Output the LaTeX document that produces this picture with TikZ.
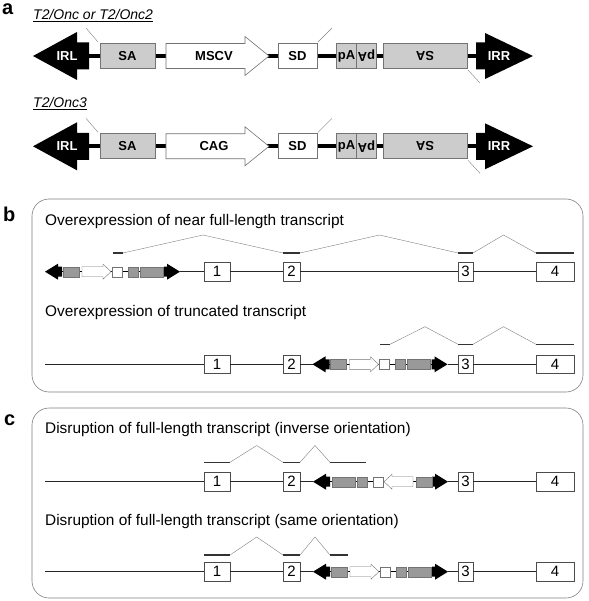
\documentclass[tikz,border=0pt]{standalone}
\usepackage{fontspec}
\setmainfont{Liberation Sans}

\definecolor{lightbox}{gray}{0.80}
\definecolor{minibox}{gray}{0.60}
\definecolor{rim}{gray}{0.45}

\tikzset{
  abox/.style={fill=lightbox, draw=rim, line width=0.6pt},
  awhite/.style={fill=white, draw=rim, line width=0.6pt},
  mbox/.style={fill=minibox, draw=rim, line width=0.4pt},
  mwhite/.style={fill=white, draw=rim, line width=0.4pt},
  lbl/.style={inner sep=0, font=\fontsize{13}{13}\selectfont\bfseries},
  partlbl/.style={inner sep=0, anchor=base west, font=\fontsize{20}{20}\selectfont\bfseries},
  title/.style={inner sep=0, anchor=west, font=\fontsize{15.4}{16}\selectfont},
  exon/.style={draw=black!70, fill=white, line width=0.6pt, minimum height=18.5pt, inner sep=0, font=\fontsize{15}{15}\selectfont},
  gene/.style={black!85, line width=1pt},
  bar/.style={black!80, line width=1.6pt},
  splice/.style={gray, line width=0.4pt},
  panel/.style={draw=gray, line width=0.6pt, rounded corners=17pt},
  marker/.style={gray, line width=0.4pt}
}

% full construct: #1 = y of the axis, #2 = promoter, #3 = name prefix
\newcommand{\onc}[3]{%
\begin{scope}[shift={(0,#1)}]
\draw[line width=4pt] (85,0) -- (480,0);
\fill (33,0) -- (77,-24) -- (77,-13.5) -- (89,-13.5) -- (89,13.5) -- (77,13.5) -- (77,24) -- cycle;
\fill (533,0) -- (485,-23) -- (485,-13.5) -- (476,-13.5) -- (476,13.5) -- (485,13.5) -- (485,23) -- cycle;
\filldraw[abox] (100,-12.5) rectangle (155,12.5);
\filldraw[awhite] (166,-12.5) -- (245,-12.5) -- (245,-19.5) -- (269,0) -- (245,19.5) -- (245,12.5) -- (166,12.5) -- cycle;
\filldraw[awhite] (278,-12.5) rectangle (317,12.5);
\filldraw[abox] (336,-12.5) rectangle (376,12.5);
\draw[rim, line width=0.6pt] (356.5,-12.5) -- (356.5,12.5);
\filldraw[abox] (383,-12.5) rectangle (467,12.5);
\draw[marker] (86,-28) -- (98,-14);
\draw[marker] (318,-14) -- (332,-28);
\draw[marker] (468,14) -- (480,27);
\node[lbl, text=white] (#3irl) at (67,0) {IRL};
\node[lbl] (#3sa) at (127.5,0) {SA};
\node[lbl] (#3pro) at (214,0) {#2};
\node[lbl] (#3sd) at (297.5,0) {SD};
\node[lbl] (#3pa) at (346.5,0) {pA};
\node[lbl, rotate=180] (#3ap) at (366.5,0) {pA};
\node[lbl, rotate=180] (#3as) at (425,0) {SA};
\node[lbl, text=white] (#3irr) at (499,0) {IRR};
\end{scope}}

% small transposon: #1 = left x, #2 = y, #3 = 1 (same) or -1 (inverse)
\newcommand{\minitn}[3]{%
\begin{scope}[shift={(#1+68.5,#2)}]
\draw[black, line width=0.6pt] (-55,0) -- (55,0);
\fill (-68.5,0) -- (-55.5,-8) -- (-55.5,-5) -- (-51.5,-5) -- (-51.5,5) -- (-55.5,5) -- (-55.5,8) -- cycle;
\fill (66.5,0) -- (53.5,-8) -- (53.5,-5) -- (50.5,-5) -- (50.5,5) -- (53.5,5) -- (53.5,8) -- cycle;
\begin{scope}[xscale=#3]
\filldraw[mbox] (-50.5,-5) rectangle (-34.5,5);
\filldraw[mwhite] (-31.5,-5) -- (-10.5,-5) -- (-10.5,-7.5) -- (-2.5,0) -- (-10.5,7.5) -- (-10.5,5) -- (-31.5,5) -- cycle;
\filldraw[mwhite] (-1.5,-5) rectangle (8.5,5);
\filldraw[mbox] (14.5,-5) rectangle (24.5,5);
\filldraw[mbox] (26.5,-5) rectangle (49.5,5);
\end{scope}
\end{scope}}

\begin{document}
\begin{tikzpicture}[x=1pt, y=-1pt]
\useasboundingbox (0,0) rectangle (588,601);

% PART A
\node[partlbl] (pa) at (2,15) {a};
\node[inner sep=0, anchor=base west, font=\fontsize{14}{14}\selectfont\itshape] (t1) at (33,19.5) {\underline{T2/Onc or T2/Onc2}};
\node[inner sep=0, anchor=base west, font=\fontsize{14}{14}\selectfont\itshape] (t3) at (33,107.5) {\underline{T2/Onc3}};
\onc{56}{MSCV}{u}
\onc{146.3}{CAG}{v}

% PART B
\node[partlbl] (pb) at (3,222) {b};
\draw[panel] (32,199) rectangle (583,392);
\node[title] (bt1) at (45,222) {Overexpression of near full-length transcript};
\node[title] (bt2) at (45,313) {Overexpression of truncated transcript};

% PART C
\node[partlbl] (pc) at (4,425) {c};
\draw[panel] (32,408) rectangle (583,598);
\node[title] (ct1) at (45,430) {Disruption of full-length transcript (inverse orientation)};
\node[title] (ct2) at (45,521.7) {Disruption of full-length transcript (same orientation)};

% EXONS
\foreach \r/\y in {b1/271.7, b2/364.3, c1/481.7, c2/571.7}{
  \node[exon, minimum width=26pt] (\r e1) at (217,\y) {1};
  \node[exon, minimum width=17pt] (\r e2) at (291.5,\y) {2};
  \node[exon, minimum width=15pt] (\r e3) at (465.5,\y) {3};
  \node[exon, minimum width=38pt] (\r e4) at (555,\y) {4};
}

% GENE LINES
\coordinate (b1l) at (180,271.7);
\draw[gene] (b1l) -- (b1e1) -- (b1e2) -- (b1e3) -- (b1e4);
\minitn{45}{271.7}{1}

\coordinate (b2s) at (45,364.3);
\coordinate (b2l) at (312.5,364.3);
\coordinate (b2r) at (447.5,364.3);
\draw[gene] (b2s) -- (b2e1) -- (b2e2) -- (b2l);
\draw[gene] (b2r) -- (b2e3) -- (b2e4);
\minitn{312.5}{364.3}{1}

\coordinate (c1s) at (45,481.7);
\coordinate (c1l) at (313,481.7);
\coordinate (c1r) at (448,481.7);
\draw[gene] (c1s) -- (c1e1) -- (c1e2) -- (c1l);
\draw[gene] (c1r) -- (c1e3) -- (c1e4);
\minitn{313}{481.7}{-1}

\coordinate (c2s) at (45,571.7);
\coordinate (c2l) at (313,571.7);
\coordinate (c2r) at (448,571.7);
\draw[gene] (c2s) -- (c2e1) -- (c2e2) -- (c2l);
\draw[gene] (c2r) -- (c2e3) -- (c2e4);
\minitn{313}{571.7}{1}

% SPLICING
\draw[bar] (113,253) -- (123,253);
\draw[splice] (123,253) -- (203,235) -- (283,253);
\draw[bar] (283,253) -- (300,253);
\draw[splice] (300,253) -- (379.5,235) -- (458,253);
\draw[bar] (458,253) -- (473,253);
\draw[splice] (473,253) -- (503.5,235) -- (536,253);
\draw[bar] (536,253) -- (574,253);

\draw[bar] (380,344.3) -- (390,344.3);
\draw[splice] (390,344.3) -- (425,326.7) -- (458,344.3);
\draw[bar] (458,344.3) -- (473,344.3);
\draw[splice] (473,344.3) -- (503.5,326.7) -- (536,344.3);
\draw[bar] (536,344.3) -- (574,344.3);

\draw[bar] (204,462.3) -- (230,462.3);
\draw[splice] (230,462.3) -- (256.7,445.5) -- (283,462.3);
\draw[bar] (283,462.3) -- (300,462.3);
\draw[splice] (300,462.3) -- (315,445.5) -- (330,462.3);
\draw[bar] (330,462.3) -- (366,462.3);

\draw[bar] (204,555) -- (230,555);
\draw[splice] (230,555) -- (256.7,537) -- (283,555);
\draw[bar] (283,555) -- (300,555);
\draw[splice] (300,555) -- (315,537) -- (330,555);
\draw[bar] (330,555) -- (348,555);
\end{tikzpicture}
\end{document}
